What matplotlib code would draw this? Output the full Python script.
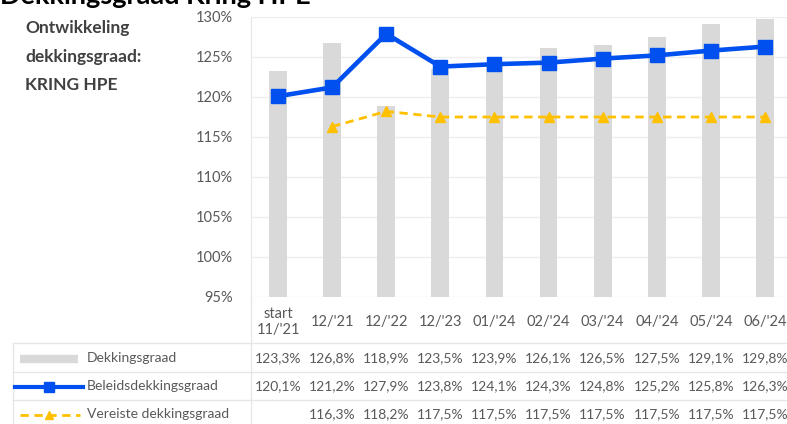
import matplotlib.pyplot as plt
import numpy as np
from matplotlib.lines import Line2D
from matplotlib.transforms import blended_transform_factory

plt.rcParams["font.family"] = ["Lato", "DejaVu Sans"]

categories = ["start\n11/'21", "12/'21", "12/'22", "12/'23", "01/'24", "02/'24",
              "03/'24", "04/'24", "05/'24", "06/'24"]
dekkingsgraad = [123.3, 126.8, 118.9, 123.5, 123.9, 126.1, 126.5, 127.5, 129.1, 129.8]
beleids = [120.1, 121.2, 127.9, 123.8, 124.1, 124.3, 124.8, 125.2, 125.8, 126.3]
vereiste = [np.nan, 116.3, 118.2, 117.5, 117.5, 117.5, 117.5, 117.5, 117.5, 117.5]
yticks = [95, 100, 105, 110, 115, 120, 125, 130]

GRAY = "#d9d9d9"
BLUE = "#0050ef"
YELLOW = "#ffc000"
TXT = "#595959"

W, H = 787, 424
fig = plt.figure(figsize=(W / 100, H / 100), dpi=100)


def fx(px):
    return px / W


def fy(py):
    return 1 - py / H


ax_l, ax_r, ax_t, ax_b = 251, 792, 17, 297
ax = fig.add_axes([fx(ax_l), fy(ax_b), fx(ax_r - ax_l), (ax_b - ax_t) / H])

x = np.arange(len(categories))
ymin = 95
ax.bar(x, np.array(dekkingsgraad) - ymin, bottom=ymin, width=0.33, color=GRAY, zorder=2)
ax.plot(x, beleids, color=BLUE, lw=3.3, marker="s", ms=10, zorder=4)
ax.plot(x, vereiste, color=YELLOW, lw=2, ls=(0, (3, 2)), marker="^", ms=7, zorder=3)

ax.set_xlim(-0.5, len(categories) - 0.5)
ax.set_ylim(95, 130)
ax.set_yticks(yticks)
ax.set_yticklabels([f"{v}%" for v in yticks], color=TXT, fontsize=10.5)
ax.tick_params(axis="y", length=0, pad=13)
ax.set_xticks([])
ax.grid(axis="y", color="#eeeeee", lw=1, zorder=0)
for s in ["top", "right", "bottom"]:
    ax.spines[s].set_visible(False)
ax.spines["left"].set_color("#e6e6e6")

trans = blended_transform_factory(ax.transData, ax.transAxes)
ah = ax_b - ax_t
for i, lab in enumerate(categories):
    ax.text(i, -25 / ah, lab, transform=trans, ha="center", va="center",
            color=TXT, fontsize=10.5, linespacing=1.25, clip_on=False)

# data table below the chart
rows = [dekkingsgraad, beleids, vereiste]
row_names = ["Dekkingsgraad", "Beleidsdekkingsgraad", "Vereiste dekkingsgraad"]
row_y = [358, 386, 414]
for vals, ry in zip(rows, row_y):
    for i, v in enumerate(vals):
        if np.isnan(v):
            continue
        ax.text(i, -(ry - ax_b) / ah, f"{v:.1f}%".replace(".", ","), transform=trans,
                ha="center", va="center", color=TXT, fontsize=10, clip_on=False)

line_col = "#e6e6e6"
for py in [343, 372, 400]:
    fig.add_artist(Line2D([fx(13), 1], [fy(py), fy(py)], color=line_col, lw=1))
fig.add_artist(Line2D([fx(13), fx(13)], [fy(343), 0], color=line_col, lw=1))
fig.add_artist(Line2D([fx(ax_l), fx(ax_l)], [fy(ax_b), 0], color=line_col, lw=1))

fig.add_artist(Line2D([fx(20), fx(78)], [fy(359), fy(359)], color=GRAY, lw=6,
                      solid_capstyle="butt"))
fig.add_artist(Line2D([fx(15), fx(83)], [fy(387), fy(387)], color=BLUE, lw=3))
fig.add_artist(Line2D([fx(49)], [fy(387)], color=BLUE, marker="s", ms=7))
fig.add_artist(Line2D([fx(20), fx(80)], [fy(415), fy(415)], color=YELLOW, lw=2,
                      ls=(0, (3, 2))))
fig.add_artist(Line2D([fx(49)], [fy(415)], color=YELLOW, marker="^", ms=6))
for name, ry in zip(row_names, row_y):
    fig.text(fx(87), fy(ry), name, ha="left", va="center", color=TXT, fontsize=10)

# side label and (cut-off) title
for line, py in zip(["Ontwikkeling", "dekkingsgraad:", "KRING HPE"], [28, 57, 85]):
    fig.text(fx(25), fy(py), line, ha="left", va="center", color="#404040",
             fontsize=12.5, fontweight="bold")
fig.text(fx(0), fy(4), "Dekkingsgraad Kring HPE", ha="left", va="baseline",
         color="black", fontsize=19.5, fontweight="bold")

fig.savefig("out.png", dpi=100)
